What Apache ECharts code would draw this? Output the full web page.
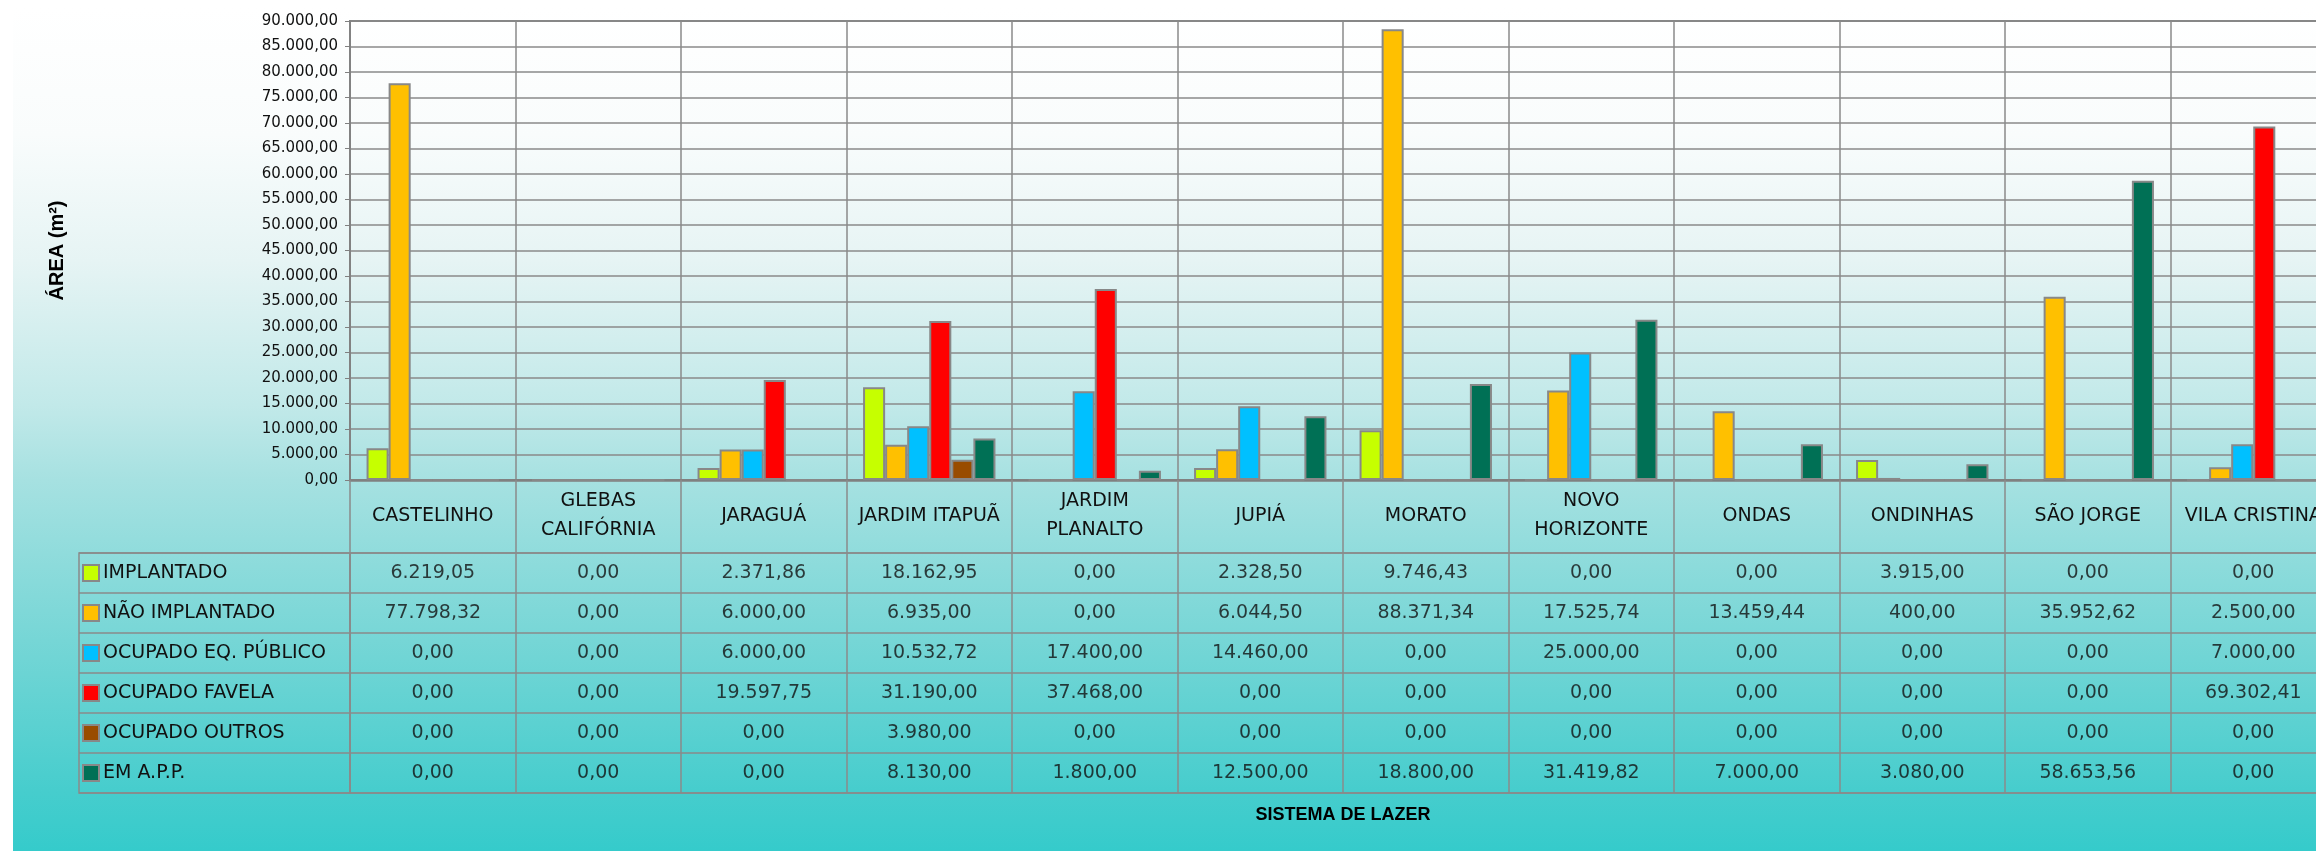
<!DOCTYPE html>
<html>
<head>
<meta charset="utf-8">
<script src="https://cdn.jsdelivr.net/npm/echarts@6/dist/echarts.min.js"></script>
<style>
  html, body { margin: 0; padding: 0; background: #ffffff; overflow: hidden; width: 2316px; height: 851px; }
  #chart { width: 2360px; height: 851px; }
</style>
</head>
<body>
<div id="chart"></div>
<script>
// ---- DATA ----
const categories = ['CASTELINHO', 'GLEBAS CALIFÓRNIA', 'JARAGUÁ', 'JARDIM ITAPUÃ', 'JARDIM PLANALTO', 'JUPIÁ', 'MORATO', 'NOVO HORIZONTE', 'ONDAS', 'ONDINHAS', 'SÃO JORGE', 'VILA CRISTINA'];
const categoryLabels = ['CASTELINHO', 'GLEBAS\nCALIFÓRNIA', 'JARAGUÁ', 'JARDIM ITAPUÃ', 'JARDIM\nPLANALTO', 'JUPIÁ', 'MORATO', 'NOVO\nHORIZONTE', 'ONDAS', 'ONDINHAS', 'SÃO JORGE', 'VILA CRISTINA'];
const seriesNames = ['IMPLANTADO', 'NÃO IMPLANTADO', 'OCUPADO EQ. PÚBLICO', 'OCUPADO FAVELA', 'OCUPADO OUTROS', 'EM A.P.P.'];
const implantado      = [6219.05, 0, 2371.86, 18162.95, 0, 2328.50, 9746.43, 0, 0, 3915.00, 0, 0];
const naoImplantado   = [77798.32, 0, 6000.00, 6935.00, 0, 6044.50, 88371.34, 17525.74, 13459.44, 400.00, 35952.62, 2500.00];
const ocupadoEqPublico = [0, 0, 6000.00, 10532.72, 17400.00, 14460.00, 0, 25000.00, 0, 0, 0, 7000.00];
const ocupadoFavela   = [0, 0, 19597.75, 31190.00, 37468.00, 0, 0, 0, 0, 0, 0, 69302.41];
const ocupadoOutros   = [0, 0, 0, 3980.00, 0, 0, 0, 0, 0, 0, 0, 0];
const emApp           = [0, 0, 0, 8130.00, 1800.00, 12500.00, 18800.00, 31419.82, 7000.00, 3080.00, 58653.56, 0];
const yMin = 0, yMax = 90000, yInterval = 5000;

const seriesValues = [implantado, naoImplantado, ocupadoEqPublico, ocupadoFavela, ocupadoOutros, emApp];
const colors = ['#C6FF00', '#FFC000', '#00C0FF', '#FF0000', '#994C00', '#007055'];

function fmtBR(v) {
  const s = Number(v).toFixed(2);
  const parts = s.split('.');
  return parts[0].replace(/\B(?=(\d{3})+(?!\d))/g, '.') + ',' + parts[1];
}

const lineCol = '#8a8a8a';
const font = 'DejaVu Sans';

const chart = echarts.init(document.getElementById('chart'), null, { renderer: 'canvas', width: 2360, height: 851 });

const tableData = [];
seriesValues.forEach((arr, r) => arr.forEach((v, c) => tableData.push([c, r, v])));

const rich = { t: { fontSize: 19, fontFamily: font, color: '#111', padding: [0, 0, 0, 5] } };
colors.forEach((col, i) => {
  rich['s' + i] = { width: 14, height: 14, backgroundColor: col, borderColor: '#888', borderWidth: 2 };
});

const plotWidth = 165.5 * categories.length;

const option = {
  animation: false,
  backgroundColor: '#ffffff',
  graphic: [{
    type: 'rect', left: 13, top: 8, z: -100, silent: true,
    shape: { width: 2360 - 13, height: 851 - 8 },
    style: {
      fill: new echarts.graphic.LinearGradient(0, 0, 0, 1, [
        { offset: 0, color: '#FFFFFF' },
        { offset: 0.15, color: '#F9FCFC' },
        { offset: 0.3, color: '#E6F4F4' },
        { offset: 0.47, color: '#C2E9E9' },
        { offset: 0.56, color: '#A6E1E1' },
        { offset: 0.75, color: '#76D6D6' },
        { offset: 0.93, color: '#46CDCD' },
        { offset: 1, color: '#35CBCB' }
      ])
    }
  }],
  grid: [
    { left: 350, top: 21, width: plotWidth, height: 459, show: true, borderColor: '#808080', borderWidth: 2 },
    { left: 350, top: 553, width: plotWidth, height: 240, show: true, borderColor: lineCol, borderWidth: 1.5 },
    { left: 79, top: 553, width: 271, height: 240, show: true, borderColor: lineCol, borderWidth: 1.5 }
  ],
  xAxis: [
    {
      gridIndex: 0, type: 'category', data: categories,
      axisLine: { lineStyle: { color: '#808080', width: 2.5 } },
      axisTick: { show: true, interval: 0, length: 73, lineStyle: { color: lineCol, width: 1.5 } },
      axisLabel: {
        interval: 0, margin: 36, verticalAlign: 'middle', fontSize: 19, fontFamily: font,
        color: '#111', lineHeight: 29, formatter: (v, i) => categoryLabels[i]
      },
      splitLine: { show: true, interval: 0, lineStyle: { color: lineCol, width: 1.5 } }
    },
    {
      gridIndex: 1, type: 'category', data: categories,
      axisLabel: { show: false }, axisTick: { show: false }, axisLine: { show: false },
      splitLine: { show: true, interval: 0, lineStyle: { color: lineCol, width: 1.5 } },
      name: 'SISTEMA DE LAZER', nameLocation: 'middle', nameGap: 13,
      nameTextStyle: { fontWeight: 'bold', fontSize: 18, fontFamily: 'Liberation Sans', color: '#000' }
    },
    { gridIndex: 2, type: 'value', show: false, min: 0, max: 1 }
  ],
  yAxis: [
    {
      gridIndex: 0, type: 'value', min: yMin, max: yMax, interval: yInterval,
      axisLine: { show: true, lineStyle: { color: '#808080', width: 1.5 } },
      axisTick: { show: true, length: 5, lineStyle: { color: '#808080' } },
      axisLabel: { fontSize: 15, fontFamily: font, color: '#111', margin: 12, formatter: v => fmtBR(v) },
      splitLine: { show: true, lineStyle: { color: lineCol, width: 1.5 } },
      name: 'ÁREA (m²)', nameLocation: 'middle', nameGap: 283, nameRotate: 90,
      nameTextStyle: { fontWeight: 'bold', fontSize: 20, fontFamily: 'Liberation Sans', color: '#000' }
    },
    {
      gridIndex: 1, type: 'category', data: seriesNames, inverse: true,
      axisLabel: { show: false }, axisTick: { show: false }, axisLine: { show: false },
      splitLine: { show: true, interval: 0, lineStyle: { color: lineCol, width: 1.5 } }
    },
    {
      gridIndex: 2, type: 'category', data: seriesNames, inverse: true,
      axisLine: { show: false }, axisTick: { show: false },
      splitLine: { show: true, interval: 0, lineStyle: { color: lineCol, width: 1.5 } },
      axisLabel: {
        inside: true, margin: 5, interval: 0,
        formatter: (v, i) => '{s' + i + '|}{t|' + v + '}', rich: rich
      }
    }
  ],
  series: seriesValues.map((arr, i) => ({
    name: seriesNames[i], type: 'bar', xAxisIndex: 0, yAxisIndex: 0,
    data: arr, barGap: '0%', barCategoryGap: '20%',
    itemStyle: { color: colors[i], borderColor: '#888', borderWidth: 2 }
  })).concat([{
    type: 'scatter', xAxisIndex: 1, yAxisIndex: 1, silent: true,
    symbolSize: 1, itemStyle: { color: 'rgba(0,0,0,0)' },
    data: tableData,
    label: {
      show: true, position: 'inside', fontSize: 19, fontFamily: font, color: '#111',
      formatter: p => fmtBR(p.value[2])
    }
  }])
};

chart.setOption(option);
</script>
</body>
</html>
